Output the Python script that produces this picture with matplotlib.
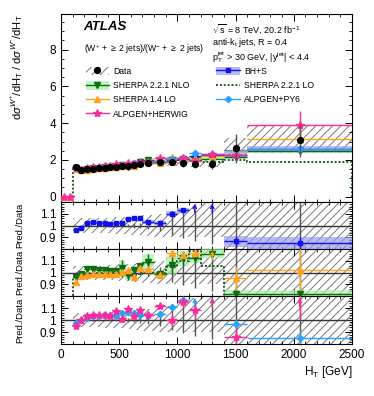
import numpy as np
import matplotlib
matplotlib.use("Agg")
import matplotlib.pyplot as plt
from matplotlib.ticker import MultipleLocator, FixedLocator
from matplotlib.patches import Patch
from matplotlib.lines import Line2D

plt.rcParams['font.family'] = ['Liberation Sans', 'DejaVu Sans']
plt.rcParams['mathtext.fontset'] = 'custom'
plt.rcParams['mathtext.rm'] = 'Liberation Sans'
plt.rcParams['mathtext.it'] = 'Liberation Sans:italic'
plt.rcParams['hatch.linewidth'] = 0.7

# H_T bins (GeV)
edges = [100, 150, 200, 250, 300, 350, 400, 450, 500, 550, 600, 650, 700,
         800, 900, 1000, 1100, 1200, 1400, 1600, 2500]
low_edges = [0, 50, 100]   # bins where predictions are zero

# data: dsigma(W+)/dsigma(W-)
data = [1.62, 1.47, 1.48, 1.52, 1.55, 1.58, 1.62, 1.64, 1.65, 1.67, 1.71, 1.76,
        1.82, 1.86, 1.86, 1.82, 1.78, 1.78, 2.64, 3.06]
data_stat = [0.005, 0.005, 0.005, 0.005, 0.005, 0.006, 0.008, 0.01, 0.012, 0.015, 0.02, 0.025,
             0.03, 0.05, 0.08, 0.11, 0.13, 0.16, 0.3, 0.3]
band_up = [0.06, 0.06, 0.06, 0.06, 0.06, 0.065, 0.065, 0.07, 0.07, 0.075, 0.08, 0.08,
           0.09, 0.1, 0.12, 0.15, 0.18, 0.22, 0.21, 0.25]
band_dn = [0.06, 0.06, 0.06, 0.06, 0.06, 0.065, 0.065, 0.07, 0.07, 0.075, 0.08, 0.08,
           0.09, 0.1, 0.1, 0.1, 0.1, 0.1, 0.21, 0.23]

# Pred./Data ratios
bhs = [0.96, 0.98, 1.02, 1.03, 1.02, 1.02, 1.01, 1.02, 1.02, 1.055, 1.065, 1.065,
       1.03, 1.02, 1.10, 1.13, 1.23, 1.28, 0.865, 0.85]
bhs_err = [0.01, 0.01, 0.01, 0.01, 0.01, 0.01, 0.01, 0.01, 0.01, 0.01, 0.01, 0.01,
           0.02, 0.015, 0.02, 0.02, 0.02, 0.03, 0.05, 0.05]
nlo = [0.965, 0.99, 1.03, 1.03, 1.02, 1.02, 1.01, 1.01, 1.035, 0.98, 1.02, 1.06,
       1.09, 0.99, 1.065, 1.12, 1.12, 1.16, 0.815, 0.815]
nlo_err = [0.01, 0.01, 0.01, 0.01, 0.01, 0.01, 0.01, 0.01, 0.07, 0.04, 0.01, 0.02,
           0.07, 0.02, 0.08, 0.06, 0.04, 0.04, 0.04, 0.04]
lo = [0.96, 0.98, 0.99, 1.0, 1.0, 1.0, 1.0, 0.99, 1.0, 0.98, 0.98, 0.99,
      1.0, 1.0, 1.05, 1.1, 1.18, 1.06, 0.76, 0.62]
sh14 = [0.92, 0.97, 0.98, 0.985, 0.99, 0.99, 0.99, 0.99, 1.005, 1.02, 0.965, 1.035,
        1.03, 0.975, 1.17, 1.15, 1.17, 1.25, 0.95, 1.02]
sh14_err = [0.01, 0.005, 0.005, 0.005, 0.005, 0.005, 0.005, 0.01, 0.01, 0.01, 0.01, 0.01,
            0.01, 0.02, 0.03, 0.03, 0.03, 0.03, 0.1, 0.2]
her = [0.95, 1.0, 1.035, 1.045, 1.04, 1.045, 1.035, 1.077, 1.01, 1.09, 1.035, 1.085,
       1.045, 1.12, 1.0, 1.15, 1.085, 1.3, 0.86, 1.27]
her_err = [0.01, 0.01, 0.01, 0.01, 0.01, 0.01, 0.01, 0.015, 0.015, 0.015, 0.02, 0.02,
           0.02, 0.02, 0.05, 0.05, 0.07, 0.08, 0.08, 0.25]
py6 = [0.975, 1.0, 1.02, 1.035, 1.03, 1.045, 1.045, 1.035, 1.06, 1.07, 1.06, 1.045,
       1.045, 1.05, 1.11, 1.17, 1.33, 1.3, 0.965, 0.855]
py6_err = [0.01, 0.01, 0.01, 0.01, 0.01, 0.01, 0.01, 0.01, 0.01, 0.01, 0.01, 0.01,
           0.01, 0.015, 0.02, 0.02, 0.03, 0.03, 0.04, 0.05]

c_data = 'black'
c_bhs = '#1010ee'
c_bhs_band = '#9a9aee'
c_nlo = '#0d6e0d'
c_nlo_band = '#a8eea8'
c_lo = '#1e5e1e'
c_sh14 = '#ffa01e'
c_her = '#ff2a9a'
c_py6 = '#2aa0ff'
c_hatch = '#777777'

edges = np.array(edges, dtype=float)
centers = 0.5 * (edges[1:] + edges[:-1])
halfw = 0.5 * (edges[1:] - edges[:-1])
widths = edges[1:] - edges[:-1]
data = np.array(data)
low_edges = np.array(low_edges, dtype=float)
low_c = 0.5 * (low_edges[1:] + low_edges[:-1])
low_hw = 0.5 * (low_edges[1:] - low_edges[:-1])

fig = plt.figure(figsize=(3.74, 3.96), dpi=100)
L, W = 0.163, 0.778
ax0 = fig.add_axes([L, 0.490, W, 0.475])
ax1 = fig.add_axes([L, 0.371, W, 0.119], sharex=ax0)
ax2 = fig.add_axes([L, 0.2525, W, 0.1185], sharex=ax0)
ax3 = fig.add_axes([L, 0.131, W, 0.1215], sharex=ax0)

tick_fs = 8.5
for ax in (ax0, ax1, ax2, ax3):
    ax.tick_params(which='both', direction='in', top=True, right=True, labelsize=tick_fs)
    ax.tick_params(which='major', length=5, width=0.7)
    ax.tick_params(which='minor', length=2.5, width=0.6)
    ax.xaxis.set_major_locator(MultipleLocator(500))
    ax.xaxis.set_minor_locator(MultipleLocator(100))
    for s in ax.spines.values():
        s.set_linewidth(0.8)

ax0.set_xlim(0, 2500)

# ---- main panel
dband_lo = data * (1 - np.array(band_dn))
dband_hi = data * (1 + np.array(band_up))
ax0.bar(centers, dband_hi - dband_lo, bottom=dband_lo, width=widths, fill=False,
        hatch='////', edgecolor=c_hatch, linewidth=0, zorder=1)


def main_series(ax, r, err, color, marker, ms, band=None):
    y = np.array(r) * data
    e = np.array(err) * data
    if band is not None:
        ax.bar(centers, 2 * e, bottom=y - e, width=widths, color=band, alpha=0.7,
               linewidth=0, zorder=2)
    ax.errorbar(centers, y, xerr=halfw, yerr=e, fmt=marker, color=color, ms=ms,
                lw=1.0, capsize=0, zorder=4)


main_series(ax0, nlo, nlo_err, c_nlo, 'v', 4, band=c_nlo_band)
main_series(ax0, bhs, bhs_err, c_bhs, 's', 3.5, band=c_bhs_band)
main_series(ax0, sh14, sh14_err, c_sh14, '^', 4)
main_series(ax0, py6, py6_err, c_py6, 'D', 3.2)
main_series(ax0, her, her_err, c_her, '*', 6)
lo_main = np.concatenate([[0, 0], np.array(lo) * data])
ax0.stairs(lo_main, np.concatenate([low_edges[:-1], edges]), color=c_lo, lw=1.4,
           linestyle=(0, (1, 1)), zorder=3)
ax0.errorbar(low_c, [0, 0], xerr=low_hw, fmt='^', color=c_sh14, ms=4, lw=1, zorder=4)
ax0.errorbar(low_c, [0, 0], xerr=low_hw, fmt='*', color=c_her, ms=6, lw=1, zorder=4)
ax0.errorbar(centers, data, yerr=np.array(data_stat) * data, fmt='o', color=c_data,
             ecolor='#555555', ms=4.2, lw=1, capsize=0, zorder=5)

ax0.set_ylim(-0.29, 9.95)
ax0.yaxis.set_major_locator(FixedLocator([0, 2, 4, 6, 8]))
ax0.yaxis.set_minor_locator(MultipleLocator(0.5))
ax0.tick_params(labelbottom=False)
ax0.set_ylabel(r'd$\sigma^{W^{+}}$/dH$_{\rm T}$ / d$\sigma^{W^{-}}$/dH$_{\rm T}$',
               fontsize=8, loc='top')
ax0.yaxis.set_label_coords(-0.125, 1.0)

ax0.text(0.075, 0.93, 'ATLAS', transform=ax0.transAxes, fontsize=9.5,
         fontweight='bold', fontstyle='italic', va='center')
ax0.text(0.078, 0.814, r'(W$^{+}$ + $\geq$ 2 jets)/(W$^{-}$ + $\geq$ 2 jets)',
         transform=ax0.transAxes, fontsize=6.2, va='center')
ax0.text(0.52, 0.92, r'$\sqrt{\rm s}$ = 8 TeV, 20.2 fb$^{-1}$', transform=ax0.transAxes,
         fontsize=6.5, va='center')
ax0.text(0.52, 0.846, r'anti-k$_{\rm t}$ jets, R = 0.4', transform=ax0.transAxes,
         fontsize=6.5, va='center')
ax0.text(0.52, 0.771, r'p$_{\rm T}^{\rm jet}$ > 30 GeV, |y$^{\rm jet}$| < 4.4',
         transform=ax0.transAxes, fontsize=6.5, va='center')

h_data = (Patch(fill=False, hatch='////', edgecolor=c_hatch, linewidth=0),
          Line2D([], [], marker='o', color=c_data, ls='none', ms=4.2))
h_nlo = (Patch(facecolor=c_nlo_band, alpha=0.7, linewidth=0),
         Line2D([], [], marker='v', color=c_nlo, lw=1, ms=4))
h_sh14 = Line2D([], [], marker='^', color=c_sh14, lw=1, ms=4)
h_her = Line2D([], [], marker='*', color=c_her, lw=1, ms=6)
h_bhs = (Patch(facecolor=c_bhs_band, alpha=0.7, linewidth=0),
         Line2D([], [], marker='s', color=c_bhs, lw=1, ms=3.5))
h_lo = Line2D([], [], color=c_lo, lw=1.4, linestyle=(0, (1, 1)))
h_py6 = Line2D([], [], marker='D', color=c_py6, lw=1, ms=3.2)
ax0.legend([h_data, h_nlo, h_sh14, h_her, h_bhs, h_lo, h_py6],
           ['Data', 'SHERPA 2.2.1 NLO', 'SHERPA 1.4 LO', 'ALPGEN+HERWIG',
            'BH+S', 'SHERPA 2.2.1 LO', 'ALPGEN+PY6'],
           ncol=2, loc='upper left', bbox_to_anchor=(0.085, 0.72), frameon=False,
           fontsize=6.2, handlelength=2.7, handleheight=1.2, handletextpad=0.5,
           columnspacing=3.1, labelspacing=0.58, borderpad=0, borderaxespad=0)

# ---- ratio panels
rlo, rhi = 0.8, 1.2


def ratio_base(ax):
    ax.bar(centers, np.array(band_up) + np.array(band_dn), bottom=1 - np.array(band_dn),
           width=widths, fill=False, hatch='////', edgecolor=c_hatch, linewidth=0, zorder=1)
    ax.axhline(1, color='#333333', lw=1.0, zorder=2)
    ax.errorbar(centers, np.ones(len(centers)), yerr=data_stat, fmt='none',
                ecolor='#555555', lw=1, zorder=2)
    ax.set_ylim(rlo, rhi)
    ax.yaxis.set_major_locator(FixedLocator([0.9, 1.0, 1.1]))
    ax.yaxis.set_minor_locator(MultipleLocator(0.02))
    ax.set_yticklabels(['0.9', '1', '1.1'])
    ax.set_ylabel('Pred./Data', fontsize=6.8)
    ax.yaxis.set_label_coords(-0.125, 0.5)


def ratio_series(ax, r, err, color, marker, ms, band=None):
    r = np.array(r)
    e = np.array(err)
    if band is not None:
        ax.bar(centers, 2 * e, bottom=r - e, width=widths, color=band, alpha=0.7,
               linewidth=0, zorder=3)
    ax.errorbar(centers, r, xerr=halfw, yerr=e, fmt=marker, color=color, ms=ms,
                lw=1.0, capsize=0, zorder=4)
    for x, v in zip(centers, r):
        if v > rhi:
            ax.annotate('', xy=(x, rhi - 0.015), xytext=(x, rhi - 0.09),
                        arrowprops=dict(arrowstyle='->', color=color, lw=1.0,
                                        shrinkA=0, shrinkB=0, mutation_scale=6),
                        zorder=5)


for ax in (ax1, ax2, ax3):
    ratio_base(ax)

ratio_series(ax1, bhs, bhs_err, c_bhs, 's', 3.5, band=c_bhs_band)

ratio_series(ax2, nlo, nlo_err, c_nlo, 'v', 4, band=c_nlo_band)
ax2.stairs(lo, edges, color=c_lo, lw=1.4, linestyle=(0, (1, 1)), zorder=3,
           baseline=None)
ax2.plot([edges[0], edges[0]], [rlo, lo[0]], color=c_lo, lw=1.4,
         linestyle=(0, (1, 1)), zorder=3)
ratio_series(ax2, sh14, sh14_err, c_sh14, '^', 4)

ratio_series(ax3, py6, py6_err, c_py6, 'D', 3.2)
ratio_series(ax3, her, her_err, c_her, '*', 6)

for ax in (ax1, ax2):
    ax.tick_params(labelbottom=False)
ax3.set_xlabel(r'H$_{\rm T}$ [GeV]', fontsize=8.5, loc='right', labelpad=2)

fig.savefig('out.png', dpi=100)
